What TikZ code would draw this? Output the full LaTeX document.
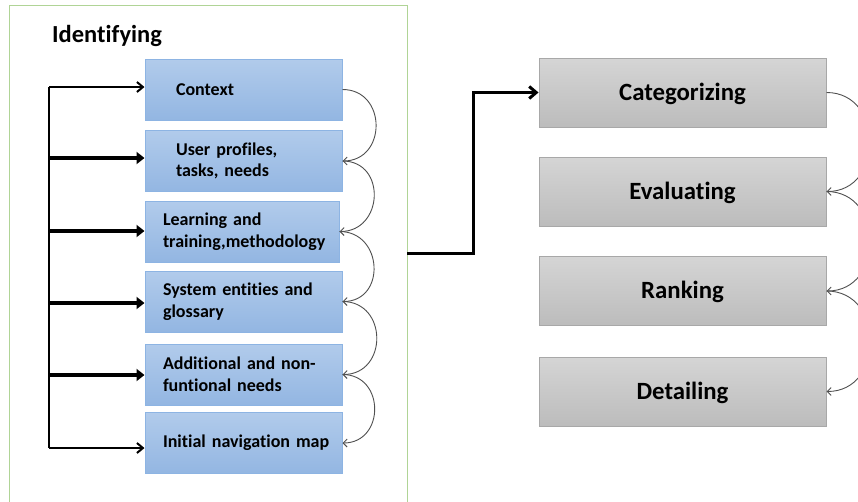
\documentclass[tikz,border=0pt]{standalone}
\usepackage{fontspec}
\setmainfont[RawFeature={-liga;-clig;-dlig}]{Carlito}
\usetikzlibrary{arrows.meta,shadings}
\definecolor{bluetop}{HTML}{B1CBEB}
\definecolor{bluebot}{HTML}{93B6E2}
\definecolor{blueline}{HTML}{8DB4E3}
\definecolor{graytop}{HTML}{D5D5D5}
\definecolor{graybot}{HTML}{BCBCBC}
\definecolor{grayline}{HTML}{A8A8A8}
\definecolor{framegreen}{HTML}{B0D496}
\definecolor{curvecol}{HTML}{505050}
\tikzset{
  bbox/.style={draw=blueline, line width=1pt, top color=bluetop, bottom color=bluebot,
    minimum width=197pt, minimum height=61pt, inner xsep=18pt, text width=161pt,
    align=left, font=\bfseries\fontsize{18}{21.7}\selectfont},
  gbox/.style={draw=grayline, line width=1pt, top color=graytop, bottom color=graybot,
    minimum width=287pt, minimum height=69pt, align=center, text height=16pt, text depth=1pt,
    font=\bfseries\fontsize{24.8}{28}\selectfont},
  thinarr/.style={line width=2pt, -{Straight Barb[length=6pt,width=10pt]}},
  thickarr/.style={line width=3.5pt, -{Triangle[length=8pt,width=12pt]}},
  curv/.style={draw=curvecol, line width=0.9pt, -{Straight Barb[length=4pt,width=8pt]}},
}
\begin{document}
\begin{tikzpicture}[x=1pt,y=-1pt]
\useasboundingbox (0,0) rectangle (858,501);
\fill[white] (0,0) rectangle (858,501);
% frame
\node[draw=framegreen, line width=1pt, minimum width=398pt, minimum height=520pt, anchor=north west, inner sep=0pt] (frame) at (9,5) {};
\node[anchor=base west, inner sep=0pt, font=\bfseries\fontsize{24.5}{28}\selectfont] (ident) at (52,42) {Identifying};
% blue boxes
\node[bbox, inner xsep=31pt, text width=135pt] (ctx) at (243.5,89.5) {Context};
\node[bbox, inner xsep=31pt, text width=135pt] (usr) at (243.5,161) {User profiles,\\tasks, needs};
\node[bbox, minimum width=194pt, text width=158pt] (lrn) at (242,231.5) {Learning and\\training,methodology};
\node[bbox] (sys) at (243.5,301.5) {System entities and\\glossary};
\node[bbox] (add) at (243.5,374.5) {Additional and non-\\funtional needs};
\node[bbox] (ini) at (243.5,443) {\mbox{Initial navigation map}};
% left bracket
\coordinate (vtop) at (49,87);
\coordinate (vbot) at (49,448);
\draw[line width=2.5pt] (vtop) -- (vbot);
\draw[thinarr] (vtop) -- (vtop -| ctx.west);
\draw[thickarr] (49,158) -- (usr.west |- 0,158);
\draw[thickarr] (49,231) -- (lrn.west |- 0,231);
\draw[thickarr] (49,303) -- (sys.west |- 0,303);
\draw[thickarr] (49,375) -- (add.west |- 0,375);
\draw[thinarr] (vbot) -- (vbot -| ini.west);
% curves
\draw[curv] (ctx.east) to[out=0,in=0,looseness=1.6] (usr.east);
\draw[curv] (usr.east) to[out=0,in=0,looseness=1.6] (lrn.east);
\draw[curv] (lrn.east) to[out=0,in=0,looseness=1.6] (sys.east);
\draw[curv] (sys.east) to[out=0,in=0,looseness=1.6] (add.east);
\draw[curv] (add.east) to[out=0,in=0,looseness=1.6] (ini.east);
% gray boxes
\node[gbox] (cat) at (682.5,92.5) {Categorizing};
\node[gbox] (eva) at (682.5,191.5) {Evaluating};
\node[gbox] (ran) at (682.5,291) {Ranking};
\node[gbox] (det) at (682.5,391.5) {Detailing};
\draw[curv] (cat.east) to[out=0,in=0,looseness=1.5] (eva.east);
\draw[curv] (eva.east) to[out=0,in=0,looseness=1.5] (ran.east);
\draw[curv] (ran.east) to[out=0,in=0,looseness=1.5] (det.east);
% link
\coordinate (fout) at (407,253);
\draw[line width=3pt, -{Straight Barb[length=7pt,width=12pt]}] (fout) -- (473,253) |- (cat.west);
\end{tikzpicture}
\end{document}
